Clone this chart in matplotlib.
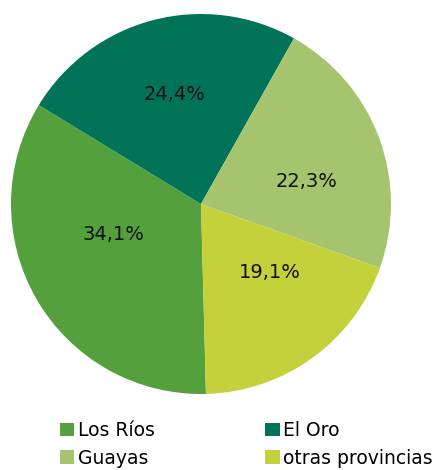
import matplotlib.pyplot as plt
from matplotlib.patches import Patch

labels = ["Los Ríos", "El Oro", "Guayas", "otras provincias"]
shares = [34.1, 24.4, 22.3, 19.1]
colors = ["#54a03c", "#007358", "#a6c46e", "#c5d13b"]
# where the percentage labels sit (fraction of radius, x and y)
label_xy = [(-0.463, -0.163), (-0.137, 0.574), (0.553, 0.116), (0.363, -0.363)]

plt.rcParams['font.family'] = ['DejaVu Sans']

fig = plt.figure(figsize=(4.45, 4.7), dpi=100)
ax = fig.add_axes([11 / 445, (470 - 394) / 470, 380 / 445, 380 / 470])

wedges, texts, autotexts = ax.pie(
    shares, colors=colors, startangle=-88.5, counterclock=False,
    autopct=lambda p: f"{p:.1f}%".replace(".", ","), pctdistance=0.55,
    textprops={'fontsize': 14, 'color': '#111111'})
for t, xy in zip(autotexts, label_xy):
    t.set_position(xy)
ax.set_xlim(-1, 1)
ax.set_ylim(-1, 1)
ax.set_aspect('equal')

# legend, two columns filled row by row
order = [0, 2, 1, 3]
handles = [Patch(facecolor=colors[i], edgecolor='none') for i in order]
fig.legend(handles, [labels[i] for i in order], ncol=2, loc='upper left',
           bbox_to_anchor=(47 / 445, 1 - 408 / 470), frameon=False,
           fontsize=13.5, handlelength=0.75, handleheight=0.75,
           handletextpad=0.2, columnspacing=5.9, labelspacing=0.45,
           borderpad=0.2)

fig.savefig("out.png", dpi=100)
